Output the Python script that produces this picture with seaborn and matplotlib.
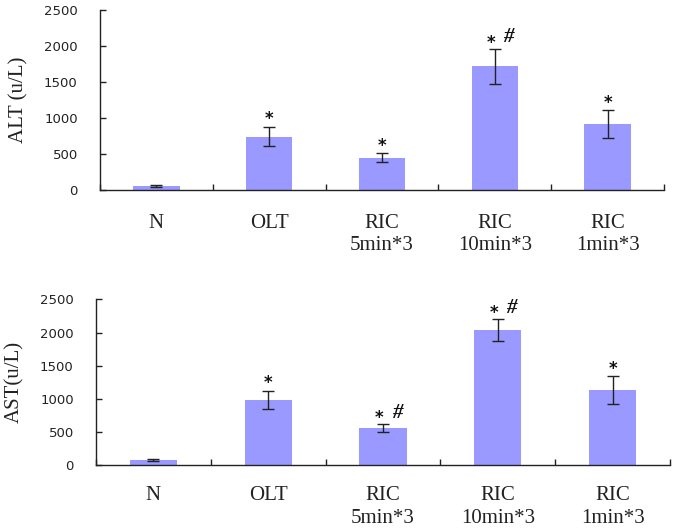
import matplotlib
matplotlib.use("Agg")
import matplotlib.pyplot as plt
import seaborn as sns
import numpy as np
import pandas as pd

categories = ["N", "OLT", "RIC\n5min*3", "RIC\n10min*3", "RIC\n1min*3"]
alt_mean = [55, 744, 450, 1717, 921]
alt_err = [12, 135, 62, 245, 190]
ast_mean = [80, 983, 566, 2033, 1130]
ast_err = [10, 140, 57, 168, 210]
alt_marks = ["", "*", "*", "* #", "*"]
ast_marks = ["", "*", "* #", "* #", "*"]
yticks = [0, 500, 1000, 1500, 2000, 2500]

sns.set_theme(style="ticks")
plt.rcParams['font.family'] = ['DejaVu Sans']

bar_color = "#9999FF"
fig = plt.figure(figsize=(6.76, 5.28), dpi=100)
ax1 = fig.add_axes([100/676, 1-190.3/528, 564/676, 180.3/528])
ax2 = fig.add_axes([96/676, 1-465.3/528, 574/676, 166/528])

def draw(ax, means, errs, marks, ylabel, labx, xpad):
    df = pd.DataFrame({"cat": categories, "val": means})
    sns.barplot(data=df, x="cat", y="val", color=bar_color, saturation=1,
                width=0.41, errorbar=None, ax=ax, linewidth=0)
    xs = np.arange(len(categories))
    ax.errorbar(xs, means, yerr=errs, fmt="none", ecolor="#222222",
                elinewidth=1, capsize=4, capthick=1)
    ax.set_xlim(-0.5, len(categories) - 0.5)
    ax.set_ylim(0, 2500)
    ax.set_yticks(yticks)
    ax.set_yticklabels([str(v) for v in yticks], fontsize=9.5,
                       family="DejaVu Sans", color="#222222")
    ax.tick_params(axis="y", direction="in", length=4, width=1,
                   pad=16, colors="#222222")
    ax.set_xticks(xs)
    ax.set_xticklabels(categories, fontsize=15, family="Liberation Serif",
                       linespacing=1.25, color="#222222")
    ax.tick_params(axis="x", which="major", length=0, pad=xpad)
    ax.set_xticks(np.arange(len(categories) + 1) - 0.5, minor=True)
    ax.tick_params(axis="x", which="minor", direction="in", length=4,
                   width=1, color="#222222")
    for s in ["top", "right"]:
        ax.spines[s].set_visible(False)
    for s in ["left", "bottom"]:
        ax.spines[s].set_color("#222222")
        ax.spines[s].set_linewidth(1)
    ax.set_xlabel("")
    ax.set_ylabel(ylabel, fontsize=15, family="Liberation Serif",
                  color="#222222")
    ax.yaxis.set_label_coords(labx, 0.5)
    for x, m, e, mk in zip(xs, means, errs, marks):
        top = m + e
        if mk == "*":
            ax.annotate("*", (x, top), xytext=(0, -1), textcoords="offset points",
                        ha="center", va="bottom", fontsize=12,
                        fontweight="bold", color="#111111")
        elif mk:
            ax.annotate("*", (x, top), xytext=(-3, -2), textcoords="offset points",
                        ha="center", va="bottom", fontsize=12,
                        fontweight="bold", color="#111111")
            ax.annotate("#", (x, top), xytext=(10, 1), textcoords="offset points",
                        ha="center", va="bottom", fontsize=15,
                        fontweight="bold", family="Liberation Serif",
                        style="italic", color="#111111")

draw(ax1, alt_mean, alt_err, alt_marks, "ALT (u/L)", -0.127, 17)
draw(ax2, ast_mean, ast_err, ast_marks, "AST(u/L)", -0.125, 15)

fig.savefig("out.png", dpi=100)
